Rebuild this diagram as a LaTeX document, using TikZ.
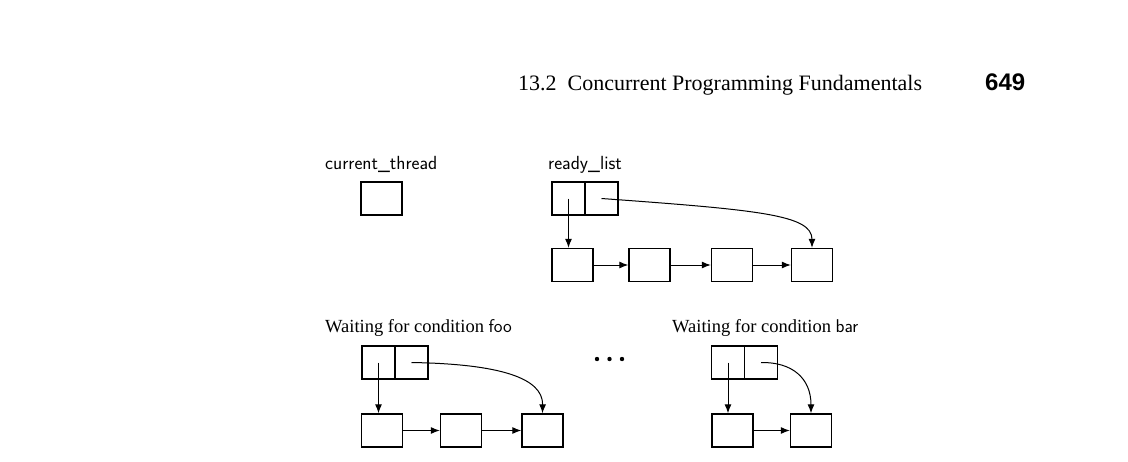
\documentclass[tikz,border=0pt]{standalone}
\usepackage{fontspec}
\setmainfont{Liberation Serif}
\newfontfamily\foliofont{Liberation Sans}
\usetikzlibrary{arrows.meta}

\begin{document}
\begin{tikzpicture}[x=1pt, y=-1pt,
  box/.style={draw, line width=1.4pt, minimum width=41pt, minimum height=33pt, inner sep=0pt},
  cell/.style={draw, line width=1.4pt, minimum width=33pt, minimum height=33pt, inner sep=0pt},
  link/.style={-{Latex[length=9pt,width=7pt]}, line width=1pt},
  sanslbl/.style={anchor=base west, inner sep=0pt, font=\sffamily\fontsize{19}{22}\selectfont},
  serlbl/.style={anchor=base west, inner sep=0pt, font=\fontsize{18.5}{21}\selectfont}]
  \useasboundingbox (0,0) rectangle (1128,461);
  % Running head
  \node[anchor=base west, inner sep=0pt, font=\fontsize{22}{24}\selectfont] (head) at (518,90) {13.2\enspace Concurrent Programming Fundamentals};
  \node[anchor=base west, inner sep=0pt, font=\foliofont\bfseries\fontsize{24}{26}\selectfont] (folio) at (985,90) {649};
  % Current thread
  \node[sanslbl] (curlbl) at (325,169) {current\_thread};
  \node[box] (cur) at (381.5,198.5) {};
  % Ready list
  \node[sanslbl] (rdylbl) at (548,169) {ready\_list};
  \node[cell] (rl1) at (568.5,198.5) {};
  \node[cell] (rl2) at (601.5,198.5) {};
  \node[box] (r1) at (572.5,265) {};
  \node[box] (r2) at (649.5,265) {};
  \node[box] (r3) at (732,265) {};
  \node[box] (r4) at (812,265) {};
  \draw[link] (rl1.center) -- (rl1.center |- r1.north);
  \draw[link] (rl2.center) .. controls (760,210) and (812,215) .. (r4.north);
  \draw[link] (r1) -- (r2);
  \draw[link] (r2) -- (r3);
  \draw[link] (r3) -- (r4);
  % Waiting for foo
  \node[serlbl] (foolbl) at (325,332) {Waiting for condition {\sffamily foo}};
  \node[cell] (f1) at (378.5,362.5) {};
  \node[cell] (f2) at (411.5,362.5) {};
  \node[box] (w1) at (382,430.5) {};
  \node[box] (w2) at (461,430.5) {};
  \node[box] (w3) at (542.5,430.5) {};
  \draw[link] (f1.center) -- (f1.center |- w1.north);
  \draw[link] (f2.center) .. controls (500,364) and (543,378) .. (w3.north);
  \draw[link] (w1) -- (w2);
  \draw[link] (w2) -- (w3);
  % Dots
  \foreach \i in {597,609.5,622}
    \fill (\i,359) circle (2.2pt);
  % Waiting for bar
  \node[serlbl] (barlbl) at (672,332) {Waiting for condition {\sffamily bar}};
  \node[cell] (b1) at (728,362.5) {};
  \node[cell] (b2) at (761,362.5) {};
  \node[box] (v1) at (732.5,430.5) {};
  \node[box] (v2) at (811,430.5) {};
  \draw[link] (b1.center) -- (b1.center |- v1.north);
  \draw[link] (b2.center) .. controls (792,362) and (811,378) .. (v2.north);
  \draw[link] (v1) -- (v2);
\end{tikzpicture}
\end{document}
